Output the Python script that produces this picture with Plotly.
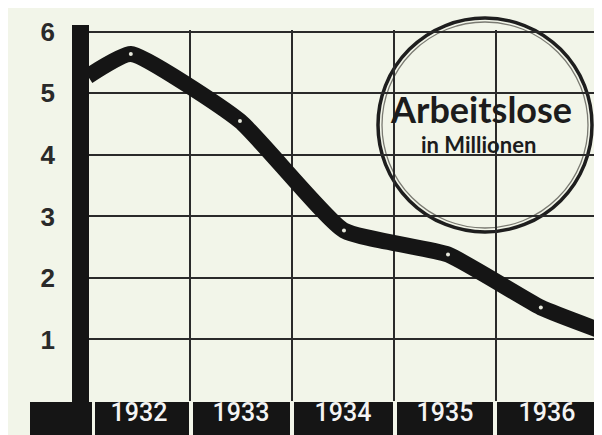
import plotly.graph_objects as go

# ---- data ----
years = [1932, 1933, 1934, 1935, 1936]
year_labels = ["1932", "1933", "1934", "1935", "1936"]
y_ticks = [1, 2, 3, 4, 5, 6]
y_tick_labels = ["1", "2", "3", "4", "5", "6"]
# curve of unemployed (millions), x in fractional years
curve_x = [1932.0, 1932.42, 1933.49, 1934.51, 1935.53, 1936.44, 1937.0]
curve_y = [5.28, 5.64, 4.55, 2.77, 2.38, 1.52, 1.16]
# marked data points on the curve
point_x = [1932.42, 1933.49, 1934.51, 1935.53, 1936.44]
point_y = [5.64, 4.55, 2.77, 2.38, 1.52]
title_main = "Arbeitslose"
title_sub = "in Millionen"

W, H = 602, 435
ML, MR, MT, MB = 80, 9, 22, 42
PW, PH = W - ML - MR, H - MT - MB
BG = "#f2f5e9"
INK = "#151515"


def px(x):
    return (x - ML) / PW


def py(y):
    return (H - MB - y) / PH


fig = go.Figure()
fig.add_trace(go.Scatter(
    x=curve_x, y=curve_y, mode="lines",
    line=dict(color=INK, width=16, shape="spline", smoothing=0.45),
    hoverinfo="skip", showlegend=False))
fig.add_trace(go.Scatter(
    x=point_x, y=point_y, mode="markers",
    marker=dict(color="#e6e8dc", size=4),
    hoverinfo="skip", showlegend=False))

shapes = []
# thick vertical axis bar
shapes.append(dict(type="rect", xref="paper", yref="paper",
                   x0=px(64), x1=px(81), y0=py(398), y1=py(17),
                   fillcolor=INK, line=dict(width=0), layer="above"))
# bottom-left block
shapes.append(dict(type="rect", xref="paper", yref="paper",
                   x0=px(22), x1=px(84), y0=py(431), y1=py(394),
                   fillcolor=INK, line=dict(width=0), layer="below"))
# year boxes
box_edges = [(87, 181), (185, 282), (286, 385), (389, 485), (489, 602)]
for (a, b) in box_edges:
    shapes.append(dict(type="rect", xref="paper", yref="paper",
                       x0=px(a), x1=px(b), y0=py(427), y1=py(394),
                       fillcolor=INK, line=dict(width=0), layer="below"))
# title circle (double ring)
cx, cy, r = 477, 117, 107
shapes.append(dict(type="circle", xref="paper", yref="paper",
                   x0=px(cx - r), x1=px(cx + r), y0=py(cy + r), y1=py(cy - r),
                   fillcolor=BG, line=dict(color="#1e1e1e", width=3.5),
                   layer="between"))
r2 = r - 4
shapes.append(dict(type="circle", xref="paper", yref="paper",
                   x0=px(cx - r2), x1=px(cx + r2), y0=py(cy + r2), y1=py(cy - r2),
                   fillcolor="rgba(0,0,0,0)", line=dict(color="#7a7a72", width=1.3),
                   layer="between"))

annotations = [
    dict(text=title_main, xref="paper", yref="paper", x=px(473), y=py(101),
         xanchor="center", yanchor="middle", showarrow=False,
         font=dict(family="Lato", size=36, color="#1c1c1c", weight="bold")),
    dict(text=title_sub, xref="paper", yref="paper", x=px(470), y=py(136),
         xanchor="center", yanchor="middle", showarrow=False,
         font=dict(family="Lato", size=22, color="#1c1c1c", weight="bold")),
]

fig.update_layout(
    width=W, height=H,
    margin=dict(l=ML, r=MR, t=MT, b=MB, pad=0),
    paper_bgcolor=BG, plot_bgcolor=BG,
    shapes=shapes, annotations=annotations,
    showlegend=False,
    xaxis=dict(range=[1932, 1937.03], showgrid=False, zeroline=False,
               showline=False, ticks="",
               tickvals=[y + 0.5 for y in years], ticktext=year_labels,
               tickfont=dict(family="Roboto", size=25, color="#f4f4f4", weight=500),
               ticklabelstandoff=-6,
               minor=dict(tickvals=[1933, 1934, 1935, 1936, 1937], showgrid=True,
                          gridcolor="#2a2a2a", gridwidth=2, ticks=""),
               fixedrange=True),
    yaxis=dict(range=[0, 6.03], showgrid=True, gridcolor="#2a2a2a", gridwidth=2,
               zeroline=False, showline=False, ticks="",
               tickvals=y_ticks, ticktext=y_tick_labels,
               tickfont=dict(family="Liberation Sans", size=26, color="#2a2a2a",
                             weight="bold"),
               ticklabelstandoff=32, fixedrange=True),
)

fig.write_html("out.html")
